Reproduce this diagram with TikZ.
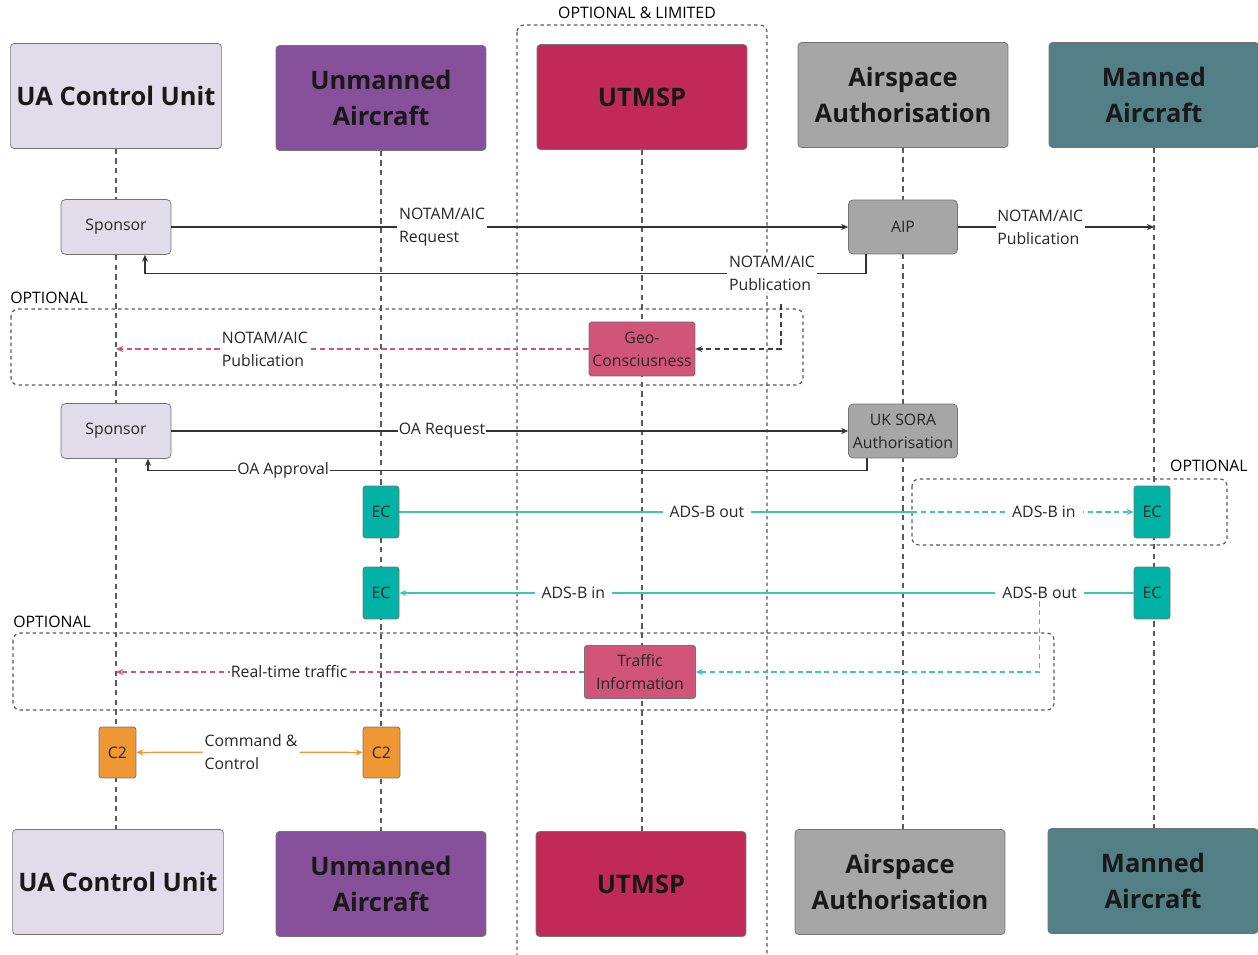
\documentclass[tikz,border=0pt]{standalone}
\usepackage{fontspec}
\setmainfont{Open Sans}
\usetikzlibrary{calc,arrows.meta}
\definecolor{lav}{HTML}{E1DCE9}
\definecolor{uapurple}{HTML}{87509B}
\definecolor{utmred}{HTML}{C0295A}
\definecolor{asgray}{HTML}{A6A6A6}
\definecolor{mateal}{HTML}{537F86}
\definecolor{geopink}{HTML}{D1547B}
\definecolor{ecteal}{HTML}{00B3A6}
\definecolor{adscyan}{HTML}{3FC4BA}
\definecolor{c2orange}{HTML}{EE9733}
\begin{document}
\begin{tikzpicture}[x=0.02cm,y=-0.02cm,font=\fontsize{9}{13}\selectfont,
  head/.style={rectangle,draw=black!55,rounded corners=2pt,minimum width=4.2cm,minimum height=2.1cm,align=center,text=black!90,font=\fontsize{14.5}{20}\selectfont\bfseries},
  box/.style={rectangle,draw=black!55,rounded corners=2.5pt,align=center,text=black!85},
  life/.style={draw=black!65,dash pattern=on 3pt off 2.5pt,line width=0.7pt},
  optbox/.style={draw=black!65,dash pattern=on 2pt off 1.8pt,rounded corners=4pt,line width=0.65pt},
  lbl/.style={fill=white,align=left,inner sep=1pt,text=black!85},
  gap/.style={inner xsep=4pt},
  tip/.style={-{Stealth[length=4pt,width=3.5pt]}},
  msg/.style={draw=black!80,line width=0.7pt,tip},
  gdash/.style={draw=black!75,line width=0.6pt,dash pattern=on 3pt off 2pt,tip},
  pkdash/.style={draw=geopink,line width=0.7pt,dash pattern=on 3pt off 2pt,tip},
  cyline/.style={draw=adscyan,line width=0.8pt},
  cydash/.style={draw=adscyan,line width=0.8pt,dash pattern=on 3pt off 2pt},
  orline/.style={draw=c2orange,line width=0.7pt,tip}]
  \useasboundingbox (0,0) rectangle (1258,955);
  \clip (0,0) rectangle (1258,955);
  % participants
  \node[head,fill=lav] (uacuTop) at (116,96) {UA Control Unit};
  \node[head,fill=uapurple] (uavTop) at (381,98) {Unmanned\\Aircraft};
  \node[head,fill=utmred] (utmTop) at (642,97) {UTMSP};
  \node[head,fill=asgray] (asaTop) at (903,95) {Airspace\\Authorisation};
  \node[head,fill=mateal] (manTop) at (1154,95) {Manned\\Aircraft};
  \node[head,fill=lav] (uacuBot) at (118,882) {UA Control Unit};
  \node[head,fill=uapurple] (uavBot) at (381,884) {Unmanned\\Aircraft};
  \node[head,fill=utmred] (utmBot) at (641,884) {UTMSP};
  \node[head,fill=asgray] (asaBot) at (900,882) {Airspace\\Authorisation};
  \node[head,fill=mateal] (manBot) at (1153,881) {Manned\\Aircraft};
  \foreach \p in {uacu,uav,utm,asa,man}
    \draw[life] (\p Top) -- (\p Top |- \p Bot.north);
  % optional frames
  \draw[optbox] (517,25) rectangle (767,975);
  \node (olim) at (637,13) {OPTIONAL \& LIMITED};
  \draw[optbox] (11,309) rectangle (803,385);
  \node[anchor=west,inner sep=0pt] (opt1) at (10,298) {OPTIONAL};
  \draw[optbox] (912,479) rectangle (1227,545);
  \node[anchor=east,inner sep=0pt] (opt2) at (1248,466) {OPTIONAL};
  \draw[optbox] (13,633) rectangle (1054,710);
  \node[anchor=west,inner sep=0pt] (opt3) at (13,622) {OPTIONAL};
  % NOTAM
  \node[box,fill=lav,minimum width=2.2cm,minimum height=1.1cm] (sp1) at (116,227) {Sponsor};
  \node[box,fill=asgray,minimum width=2.18cm,minimum height=1.08cm] (aip) at (903,227) {AIP};
  \draw[msg] (sp1) -- node[lbl,pos=0.4]{NOTAM/AIC\\Request} (aip);
  \draw[msg] (aip) -- node[lbl,pos=0.42]{NOTAM/AIC\\Publication} (aip -| manTop);
  \draw[msg] ($(aip.south)+(-37,0)$) -- ++(0,19) -| ($(sp1.south)+(29,0)$);
  \node[lbl] (pubA) at (772,273) {NOTAM/AIC\\Publication};
  \node[box,fill=geopink,rounded corners=1pt,minimum width=2.12cm,minimum height=1.08cm,inner sep=1pt] (geo) at (642,349) {Geo-\\Consciusness};
  \draw[gdash] ($(pubA.south)+(9,12)$) |- (geo);
  \draw[pkdash] (geo) -- node[lbl,pos=0.685]{NOTAM/AIC\\Publication} (geo -| uacuTop);
  % operational authorisation
  \node[box,fill=lav,minimum width=2.2cm,minimum height=1.1cm] (sp2) at (116,431) {Sponsor};
  \node[box,fill=asgray,minimum width=2.18cm,minimum height=1.08cm,inner sep=1pt] (sora) at (903,431) {UK SORA\\Authorisation};
  \draw[msg] (sp2) -- node[lbl,pos=0.4,inner sep=0.5pt]{OA Request} (sora);
  \draw[msg] ($(sora.south)+(-36,0)$) -- ++(0,12) -| node[lbl,pos=0.406,inner sep=0.5pt]{OA Approval} ($(sp2.south)+(32,0)$);
  % ADS-B
  \foreach \e/\x/\y in {ec1/381/512,ec2/1152/512,ec3/381/593,ec4/1152/593}
    \node[box,fill=ecteal,rounded corners=1.5pt,minimum width=0.72cm,minimum height=1.04cm,inner sep=0pt] (\e) at (\x,\y) {EC};
  \coordinate (o2w) at (912,512);
  \draw[cyline] (ec1) -- node[lbl,gap,pos=0.6]{ADS-B out} (o2w);
  \draw[cydash,tip] (o2w) -- node[lbl,gap,pos=0.595]{ADS-B in} (ec2);
  \draw[cyline,tip] (ec4) -- node[lbl,gap,pos=0.128] (abo) {ADS-B out} node[lbl,gap,pos=0.763]{ADS-B in} (ec3);
  \node[box,fill=geopink,rounded corners=1pt,minimum width=2.22cm,minimum height=1.06cm,inner sep=1pt] (traf) at (640,672) {Traffic\\Information};
  \draw[cydash,tip] (abo.south) |- (traf);
  \draw[pkdash] (traf) -- node[lbl,pos=0.63,inner sep=0.5pt]{Real-time traffic} (traf -| uacuTop);
  % command and control
  \node[box,fill=c2orange,rounded corners=1.5pt,minimum width=0.74cm,minimum height=1.02cm,inner sep=0pt] (c2a) at (117.5,752.5) {C2};
  \node[box,fill=c2orange,rounded corners=1.5pt,minimum width=0.74cm,minimum height=1.02cm,inner sep=0pt] (c2b) at (381.5,752.5) {C2};
  \node[lbl] (cc) at (251,752) {Command \&\\Control};
  \draw[orline] (cc) -- (c2a);
  \draw[orline] (cc) -- (c2b);
\end{tikzpicture}
\end{document}
